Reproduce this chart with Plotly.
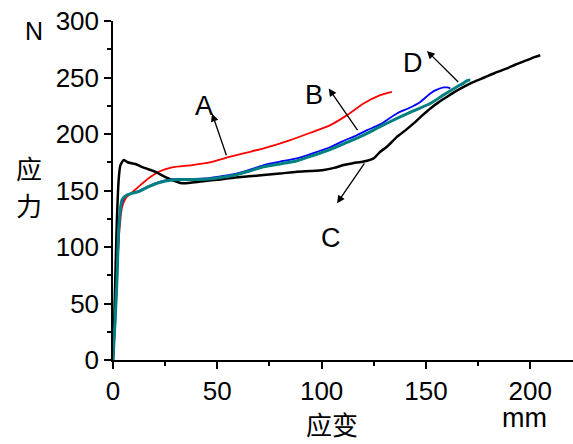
import plotly.graph_objects as go

# Curve A (red)
a_x = [0, 1, 2, 3.1, 4.3, 5.5, 6.7, 9, 12.3, 17.1, 21.9, 28.3, 37.9, 47.5, 56.3, 64, 72.2, 85, 94.6, 104.2, 112.2, 120.1, 128.1, 133.7]
a_y = [0, 40, 80, 115, 135, 141, 144.5, 148, 153.4, 160.8, 166.6, 170.5, 172.5, 175.4, 179.9, 183.5, 187.3, 194.6, 201.1, 207.9, 216.7, 227, 234.4, 237.3]

# Curve B (blue)
b_x = [0, 1, 1.9, 2.7, 3.5, 4.3, 5.5, 6.7, 9, 12.3, 17.1, 21.9, 28.3, 36, 44.2, 50, 58.6, 65, 72.2, 80, 88.2, 96, 104.2, 110, 117, 121.8, 128, 136.1, 142, 147.3, 152.1, 155, 158.5, 160.3, 161.7]
b_y = [0, 30, 68, 110, 130, 139, 144, 146, 147.5, 149.5, 154, 157.5, 159.8, 160.3, 160.6, 162, 164.7, 168, 172.5, 175.5, 178.4, 183, 188.5, 193.5, 199, 203.4, 208.5, 218.2, 223, 228.4, 235.9, 239, 241.2, 241.2, 240.3]

# Curve C (black)
c_x = [0, 0.5, 1.1, 1.8, 2.7, 3.5, 5.1, 7, 10.7, 15, 20.3, 24, 28.3, 33, 37.9, 44.2, 50, 58.6, 65, 72.2, 80, 88.2, 95, 101, 106, 110.5, 115, 120.1, 124.9, 128.1, 131.3, 136.1, 140, 144.1, 148, 152.1, 156, 160.1, 164, 168.1, 172.9, 178, 183, 188.9, 193, 198.5, 202, 204.8]
c_y = [0, 30, 71, 120, 159, 172, 176.9, 175, 173.4, 170, 166.6, 163, 159.3, 156.4, 157, 158.4, 159.5, 161.6, 162.5, 163.7, 165, 166.6, 167.2, 168.1, 170, 172.5, 174.2, 175.6, 178.4, 184.3, 188.7, 197.5, 203, 209.4, 216, 222.6, 228, 232.9, 237.5, 241.7, 246.1, 250, 254, 258, 261.5, 265.3, 268, 269.7]

# Curve D (teal)
d_x = [0, 1, 1.9, 2.7, 3.5, 4.3, 5.5, 6.7, 9, 12.3, 17.1, 21.9, 28.3, 36, 44.2, 50, 58.6, 65, 72.2, 80, 88.2, 96, 104.2, 112, 120.1, 128, 136.1, 144, 152.1, 158, 164.9, 168, 170, 171.3]
d_y = [0, 35, 71, 115, 133, 141.6, 144.5, 146, 147.5, 149, 153.4, 156.9, 159.3, 159.7, 159.9, 161, 163.7, 167, 171, 173.5, 176.3, 181, 186.4, 192.5, 199, 206.5, 213.8, 220.5, 227, 234, 241.8, 245, 247.5, 247.7]

# Labels: (text, label x, label y, arrow head x, head y, tail x, tail y)
labels = ["A", "B", "C", "D"]
label_pos = [(43.8, 224.6), (96.5, 234.4), (104.6, 107.8), (143.7, 262.4)]
arrow_head = [(47.5, 218), (103.4, 240.3), (107.4, 138.7), (150.5, 273.5)]
arrow_tail = [(54.6, 179.9), (117.7, 202), (121, 175.4), (166.2, 244.7)]

x_ticks = [0, 50, 100, 150, 200]
y_ticks = [0, 50, 100, 150, 200, 250, 300]

fig = go.Figure()
fig.add_trace(go.Scatter(x=a_x, y=a_y, mode="lines", line=dict(color="#ff0000", width=1.8, shape="spline", smoothing=0.6)))
fig.add_trace(go.Scatter(x=b_x, y=b_y, mode="lines", line=dict(color="#0000ff", width=1.8, shape="spline", smoothing=0.6)))
fig.add_trace(go.Scatter(x=c_x, y=c_y, mode="lines", line=dict(color="#000000", width=2.5, shape="spline", smoothing=0.6)))
fig.add_trace(go.Scatter(x=d_x, y=d_y, mode="lines", line=dict(color="#008080", width=3, shape="spline", smoothing=0.6)))

font_main = "Liberation Sans, Arial, sans-serif"
cjk = "Noto Sans CJK SC"

ann = []
for t, (lx, ly), (hx, hy), (tx, ty) in zip(labels, label_pos, arrow_head, arrow_tail):
    ann.append(dict(x=lx, y=ly, xref="x", yref="y", text=t, showarrow=False,
                    xanchor="center", yanchor="middle",
                    font=dict(family=font_main, size=27, color="black")))
    ann.append(dict(x=hx, y=hy, xref="x", yref="y", ax=tx, ay=ty, axref="x", ayref="y",
                    text="", showarrow=True, arrowhead=2, arrowsize=1.2, arrowwidth=1.3,
                    arrowcolor="black"))

def paper_text(txt, x, y, fam, size):
    return dict(x=x, y=y, xref="paper", yref="paper", text=txt, showarrow=False,
                xanchor="center", yanchor="middle",
                font=dict(family=fam, size=size, color="black"))

ann += [
    paper_text("N", -0.1717, 0.9697, font_main, 25),
    paper_text("应", -0.1826, 0.5692, cjk, 26),
    paper_text("力", -0.1826, 0.4573, cjk, 26),
    paper_text("应变", 0.476, -0.1884, cjk, 26),
    paper_text("mm", 0.8935, -0.170, font_main, 27),
]

axis_common = dict(showgrid=False, zeroline=False,
                   showline=True, linecolor="black", linewidth=1.5,
                   ticks="outside", ticklen=7, tickwidth=1.5, tickcolor="black",
                   minor=dict(dtick=25, tick0=0, ticks="outside", ticklen=4, tickwidth=1.5,
                              tickcolor="black", showgrid=False),
                   tickfont=dict(family=font_main, size=26, color="black"))

fig.update_layout(
    width=573, height=444,
    margin=dict(l=113, r=0, t=21, b=84),
    paper_bgcolor="white", plot_bgcolor="white",
    showlegend=False,
    annotations=ann,
    xaxis=dict(range=[0, 220.5], tickvals=x_ticks, **axis_common),
    yaxis=dict(range=[0, 300], tickvals=y_ticks, **axis_common),
)

fig.write_html("out.html")
